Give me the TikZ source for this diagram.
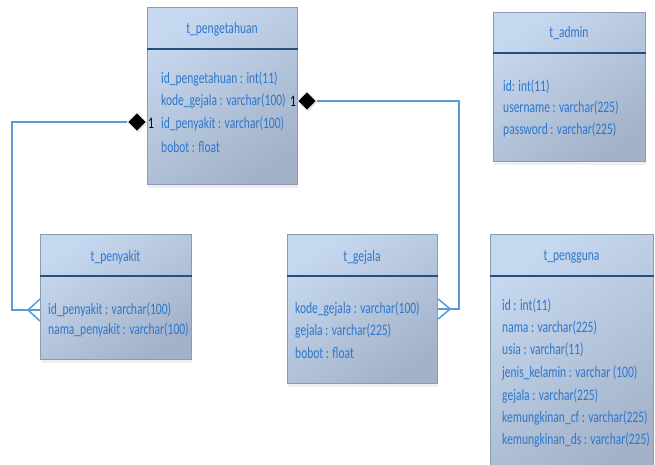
\documentclass[tikz,border=0pt]{standalone}
\usepackage{fontspec}
\setmainfont{Carlito}[FakeStretch=0.72]
\usetikzlibrary{shapes.geometric,shadows}
\definecolor{txtc}{HTML}{2E77CC}
\definecolor{boxa}{HTML}{C6D8EF}
\definecolor{boxb}{HTML}{A3B2C9}
\definecolor{edgec}{HTML}{8C9BB2}
\definecolor{hdrc}{HTML}{24507E}
\definecolor{connc}{HTML}{5B9BD5}
\tikzset{
  tbl/.style={anchor=north west, draw=edgec, line width=1.2pt, top color=boxa, bottom color=boxb, shading angle=35, inner sep=0pt,
    drop shadow={shadow xshift=0pt, shadow yshift=-3pt, opacity=0.12}},
  hdr/.style={draw=hdrc, line width=1.8pt},
  ttl/.style={text=txtc, font=\fontsize{16}{18}\selectfont, inner sep=0pt},
  attr/.style={anchor=west, text=txtc, font=\fontsize{16}{18}\selectfont, inner sep=0pt},
  conn/.style={draw=connc, line width=1.5pt},
  dmd/.style={diamond, fill=black, draw=white, line width=0.7pt, minimum width=19pt, minimum height=19pt, inner sep=0pt,
    drop shadow={shadow xshift=1pt, shadow yshift=-1pt, opacity=0.25}},
  one/.style={text=black, font=\fontsize{16}{18}\selectfont, inner sep=0pt}
}
\begin{document}
\begin{tikzpicture}[x=1pt,y=-1pt]
\useasboundingbox (0,0) rectangle (655,464);
\fill[white] (0,0) rectangle (655,464);
\begin{scope}
\clip (0,0) rectangle (655,464);
% t_pengetahuan
\node[tbl, minimum width=150pt, minimum height=177pt] (tp) at (147,7) {};
\draw[hdr] ([yshift=-42pt]tp.north west) -- ([yshift=-42pt]tp.north east);
\node[ttl] (tpt) at (222,29) {t\_pengetahuan};
\node[attr] (tpa1) at (161,79) {id\_pengetahuan : int(11)};
\node[attr] (tpa2) at (161,101) {kode\_gejala : varchar(100)};
\node[attr] (tpa3) at (161,124) {id\_penyakit : varchar(100)};
\node[attr] (tpa4) at (161,147) {bobot : float};
% t_penyakit
\node[tbl, minimum width=151pt, minimum height=125pt] (tpy) at (40,234) {};
\draw[hdr] ([yshift=-42pt]tpy.north west) -- ([yshift=-42pt]tpy.north east);
\node[ttl] (tpyt) at (115.5,257) {t\_penyakit};
\node[attr] (pya1) at (48,310) {id\_penyakit : varchar(100)};
\node[attr] (pya2) at (48,330) {nama\_penyakit : varchar(100)};
% t_gejala
\node[tbl, minimum width=150pt, minimum height=149pt] (tg) at (287,234) {};
\draw[hdr] ([yshift=-42pt]tg.north west) -- ([yshift=-42pt]tg.north east);
\node[ttl] (tgt) at (362,257) {t\_gejala};
\node[attr] (ga1) at (295,309) {kode\_gejala : varchar(100)};
\node[attr] (ga2) at (295,331) {gejala : varchar(225)};
\node[attr] (ga3) at (295,353) {bobot : float};
% t_admin
\node[tbl, minimum width=152pt, minimum height=149pt] (ta) at (493,12) {};
\draw[hdr] ([yshift=-41pt]ta.north west) -- ([yshift=-41pt]ta.north east);
\node[ttl] (tat) at (569,33) {t\_admin};
\node[attr] (aa1) at (503,87) {id: int(11)};
\node[attr] (aa2) at (503,108) {username : varchar(225)};
\node[attr] (aa3) at (503,130) {password : varchar(225)};
% t_pengguna
\node[tbl, minimum width=163pt, minimum height=245pt] (tu) at (490,234) {};
\draw[hdr] ([yshift=-42pt]tu.north west) -- ([yshift=-42pt]tu.north east);
\node[ttl] (tut) at (571.5,257) {t\_pengguna};
\node[attr] (ua1) at (502,306) {id : int(11)};
\node[attr] (ua2) at (502,328) {nama : varchar(225)};
\node[attr] (ua3) at (502,350) {usia : varchar(11)};
\node[attr] (ua4) at (502,373) {jenis\_kelamin : varchar (100)};
\node[attr] (ua5) at (502,396) {gejala : varchar(225)};
\node[attr] (ua6) at (502,418) {kemungkinan\_cf : varchar(225)};
\node[attr] (ua7) at (502,440) {kemungkinan\_ds : varchar(225)};
\end{scope}
% connectors
\coordinate (bL) at (12,122);
\coordinate (bR) at (459,101);
\coordinate (fL) at (tpy.west |- pya1);
\coordinate (fR) at (tg.east |- ga1);
\node[dmd] (dL) at (137,122) {};
\node[dmd] (dR) at (307,101) {};
\draw[conn] (dL.west) -- (bL) |- (fL);
\draw[conn] ([xshift=-12pt]fL) -- ([yshift=11pt]fL);
\draw[conn] ([xshift=-12pt]fL) -- ([yshift=-11pt]fL);
\draw[conn] (dR.east) -- (bR) |- (fR);
\draw[conn] ([xshift=12pt]fR) -- ([yshift=10pt]fR);
\draw[conn] ([xshift=12pt]fR) -- ([yshift=-10pt]fR);
\node[one] (oL) at (151,123) {1};
\node[one] (oR) at (293,101) {1};
\end{tikzpicture}
\end{document}
